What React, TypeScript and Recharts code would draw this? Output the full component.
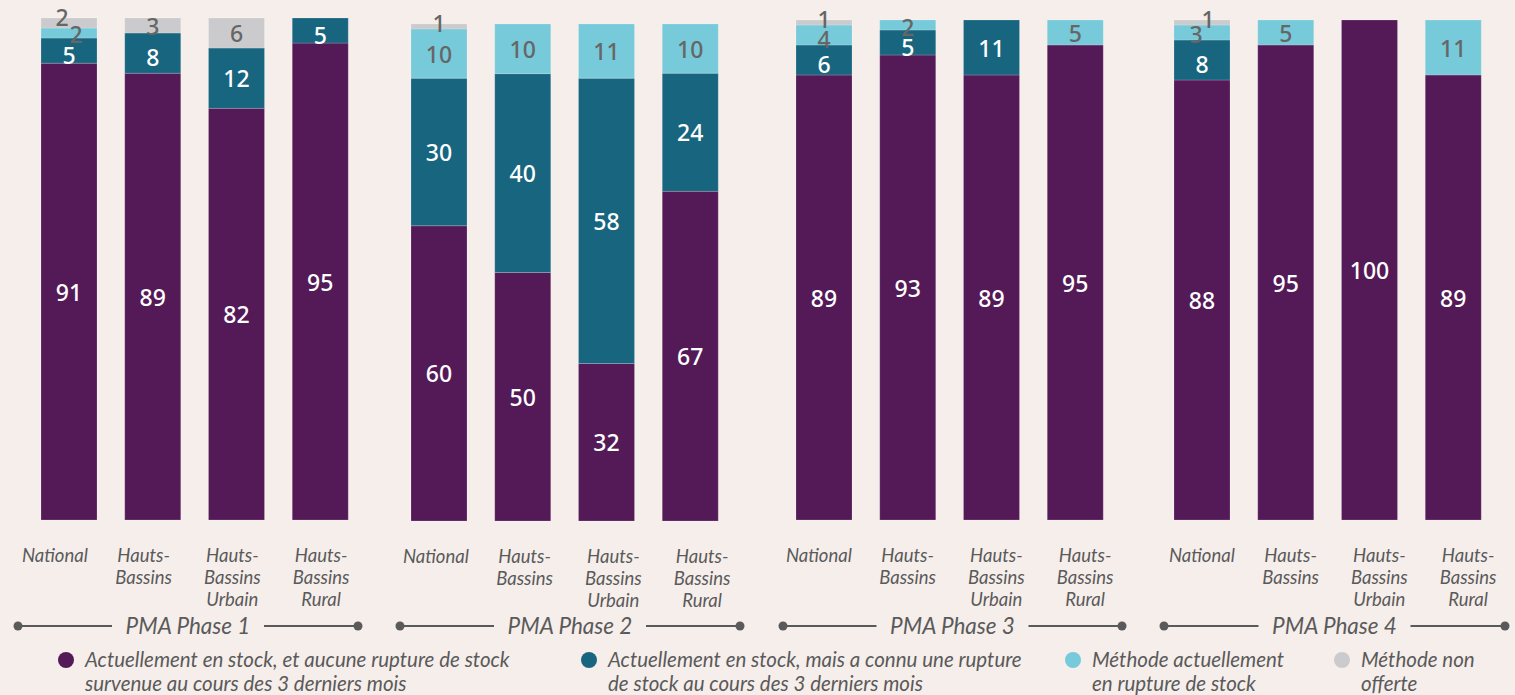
import React from 'react';
import { BarChart, Bar, XAxis, YAxis, LabelList } from 'recharts';

const FONT_NUM = '"Noto Sans", "Open Sans", sans-serif';
const FONT_TXT = 'Lato, "Open Sans", sans-serif';
const BG = '#f6eeeb';
const C = { PURPLE: '#531a57', TEAL: '#17657f', LIGHT: '#77cad9', GREY: '#cbcbcd', TEXT: '#5a5a5a', LABEL_DARK: '#666666' };

const CATEGORIES = ['National', 'Hauts-Bassins', 'Hauts-Bassins Urbain', 'Hauts-Bassins Rural'];
const TICK_LINES = [['National'], ['Hauts-', 'Bassins'], ['Hauts-', 'Bassins', 'Urbain'], ['Hauts-', 'Bassins', 'Rural']];
const PHASES = ['PMA Phase 1', 'PMA Phase 2', 'PMA Phase 3', 'PMA Phase 4'];

// one row per phase, one value per category (%)
const EN_STOCK = [[91, 89, 82, 95], [60, 50, 32, 67], [89, 93, 89, 95], [88, 95, 100, 89]];
const RUPTURE_PASSEE = [[5, 8, 12, 5], [30, 40, 58, 24], [6, 5, 11, 0], [8, 0, 0, 0]];
const RUPTURE_ACTUELLE = [[2, 0, 0, 0], [10, 10, 11, 10], [4, 2, 0, 5], [3, 5, 0, 11]];
const NON_OFFERTE = [[2, 3, 6, 0], [1, 0, 0, 0], [1, 0, 0, 0], [1, 0, 0, 0]];

const LEGEND = [
  { color: C.PURPLE, lines: ['Actuellement en stock, et aucune rupture de stock', 'survenue au cours des 3 derniers mois'], x: 66 },
  { color: C.TEAL, lines: ['Actuellement en stock, mais a connu une rupture', 'de stock au cours des 3 derniers mois'], x: 589 },
  { color: C.LIGHT, lines: ['Méthode actuellement', 'en rupture de stock'], x: 1073 },
  { color: C.GREY, lines: ['Méthode non', 'offerte'], x: 1342 },
];

// layout of the four panels
const PANEL_LEFT = [27, 397, 782, 1160];
const PANEL_TOP = [18, 24, 20, 20];
const PANEL_BOTTOM = [520, 521, 520, 520];
const TICK_DX = [-14, -3, -5, 0];
const SPAN = [[18, 358], [400, 740], [783, 1122], [1164, 1505]];
const PANEL_W = 335;
const PAD = 24;
const AXIS_H = 95;

const buildRows = (p: number) =>
  CATEGORIES.map((name, i) => {
    const raw = [EN_STOCK[p][i], RUPTURE_PASSEE[p][i], RUPTURE_ACTUELLE[p][i], NON_OFFERTE[p][i]];
    const total = raw.reduce((s, v) => s + v, 0) || 1;
    return {
      name,
      a: (raw[0] / total) * 100, b: (raw[1] / total) * 100, c: (raw[2] / total) * 100, d: (raw[3] / total) * 100,
      ra: raw[0], rb: raw[1], rc: raw[2], rd: raw[3],
    };
  });

const makeTick = (p: number) => (props: any) => {
  const { x, y, payload } = props;
  const idx = CATEGORIES.indexOf(payload.value);
  const lines = TICK_LINES[idx] || [payload.value];
  const tx = x + TICK_DX[p] + idx * 5;
  return (
    <text x={tx} y={y} textAnchor="middle" fill={C.TEXT} fontFamily={FONT_TXT} fontStyle="italic" fontSize={18.5}>
      {lines.map((l, i) => (
        <tspan key={i} x={tx} dy={i === 0 ? 42 : 22}>{l}</tspan>
      ))}
    </text>
  );
};

const makeLabel = (kind: 'a' | 'b' | 'c' | 'd', rows: any[]) => (props: any) => {
  const { x, y, width, height, value, index } = props;
  if (!value) return null;
  const row = rows[index];
  let cx = x + width / 2;
  let cy = y + height / 2;
  const dark = kind === 'c' || kind === 'd';
  // small stacked segments on top: nudge so numbers don't collide
  const crowded = row.rd > 0 && row.rc > 0 && row.rc <= 3;
  const greyLeft = row.rd >= row.rc;
  if (kind === 'd' && height < 14) {
    cy = y - 1;
    if (crowded) cx += greyLeft ? -7 : 6;
  }
  if (kind === 'c' && height < 24 && row.rd > 0) {
    if (crowded) cx += greyLeft ? 7 : -6;
    cy = y + height / 2 + (crowded ? 1 : 4);
  }
  if (kind === 'c' && height < 14 && row.rd === 0) cy = y + height / 2 + 2;
  if (kind === 'b' && height < 45) cy += 4;
  return (
    <text x={cx} y={cy} textAnchor="middle" dominantBaseline="central" fill={dark ? C.LABEL_DARK : '#ffffff'}
      fontFamily={FONT_NUM} fontWeight={500} fontSize={23}>
      {value}
    </text>
  );
};

const Panel = ({ p }: { p: number }) => {
  const rows = buildRows(p);
  const height = PANEL_BOTTOM[p] + AXIS_H;
  const series: Array<{ k: 'a' | 'b' | 'c' | 'd'; color: string }> = [
    { k: 'a', color: C.PURPLE }, { k: 'b', color: C.TEAL }, { k: 'c', color: C.LIGHT }, { k: 'd', color: C.GREY },
  ];
  const Tick = makeTick(p);
  return (
    <div style={{ position: 'absolute', left: PANEL_LEFT[p] - PAD, top: 0 }}>
      <BarChart width={PANEL_W + 2 * PAD} height={height} data={rows}
        margin={{ top: PANEL_TOP[p], right: PAD, left: PAD, bottom: 0 }} barSize={56}>
        <XAxis dataKey="name" height={AXIS_H} axisLine={false} tickLine={false} tickSize={0} tickMargin={0} interval={0} tick={<Tick />} />
        <YAxis hide domain={[0, 100]} />
        {series.map(s => (
          <Bar key={s.k} dataKey={s.k} stackId="s" fill={s.color} stroke="rgba(255,255,255,0.18)" strokeWidth={1} isAnimationActive={false}>
            <LabelList dataKey={'r' + s.k} content={makeLabel(s.k, rows)} />
          </Bar>
        ))}
      </BarChart>
    </div>
  );
};

const App: React.FC = () => (
  <div style={{ position: 'absolute', left: 0, top: 0, width: 1515, height: 695, background: BG, overflow: 'hidden' }}>
    {PHASES.map((_, p) => <Panel key={p} p={p} />)}
    <svg width={1515} height={695} style={{ position: 'absolute', left: 0, top: 0, pointerEvents: 'none' }}>
      {PHASES.map((label, p) => {
        const [x0, x1] = SPAN[p];
        const mid = (x0 + x1) / 2;
        const half = 76;
        return (
          <g key={label}>
            <line x1={x0} y1={626} x2={mid - half} y2={626} stroke={C.TEXT} strokeWidth={2} />
            <line x1={mid + half} y1={626} x2={x1} y2={626} stroke={C.TEXT} strokeWidth={2} />
            <circle cx={x0} cy={626} r={4.5} fill={C.TEXT} />
            <circle cx={x1} cy={626} r={4.5} fill={C.TEXT} />
            <text x={mid} y={634} textAnchor="middle" fill={C.TEXT} fontFamily={FONT_TXT} fontStyle="italic" fontSize={22.5}>{label}</text>
          </g>
        );
      })}
      {LEGEND.map(l => (
        <g key={l.x}>
          <circle cx={l.x} cy={660} r={8} fill={l.color} />
          {l.lines.map((t, i) => (
            <text key={i} x={l.x + 19} y={667 + i * 24} fill={C.TEXT} fontFamily={FONT_TXT} fontStyle="italic" fontSize={20.5}>{t}</text>
          ))}
        </g>
      ))}
    </svg>
  </div>
);

export default App;
